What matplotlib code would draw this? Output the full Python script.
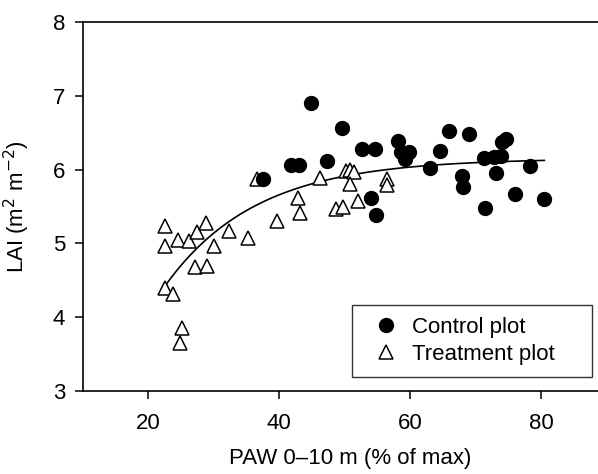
import numpy as np
import matplotlib
matplotlib.use("Agg")
from matplotlib import pyplot as plt

plt.rcParams['font.family'] = ['Liberation Sans', 'DejaVu Sans']

# control plot (filled circles)
control_paw = [37.6, 41.8, 43.1, 44.9, 47.3, 49.6, 52.7, 54.6, 54.0, 54.8,
               58.1, 58.6, 59.8, 59.2, 63.1, 64.6, 65.9, 69.0, 68.0, 68.1,
               71.5, 71.3, 72.8, 73.9, 74.1, 74.7, 73.1, 76.1, 78.3, 80.5]
control_lai = [5.87, 6.06, 6.07, 6.91, 6.12, 6.56, 6.28, 6.28, 5.61, 5.38,
               6.39, 6.24, 6.24, 6.14, 6.03, 6.25, 6.53, 6.48, 5.91, 5.77,
               5.48, 6.16, 6.17, 6.19, 6.38, 6.41, 5.95, 5.67, 6.05, 5.60]

# treatment plot (open triangles)
treat_paw = [22.5, 22.5, 24.5, 26.2, 27.4, 28.9, 30.1, 27.2, 29.0, 22.6,
             23.8, 25.2, 24.8, 32.4, 35.3, 39.6, 36.6, 42.9, 43.2, 46.3,
             50.2, 50.8, 51.5, 50.8, 48.7, 49.8, 52.1, 56.5, 56.5]
treat_lai = [5.24, 4.96, 5.05, 5.04, 5.15, 5.28, 4.97, 4.68, 4.70, 4.40,
             4.31, 3.85, 3.65, 5.17, 5.08, 5.31, 5.87, 5.62, 5.41, 5.89,
             5.98, 5.99, 5.97, 5.80, 5.47, 5.49, 5.57, 5.88, 5.79]

# fit y = c - a*exp(-b*x) to all points
x_all = np.array(control_paw + treat_paw)
y_all = np.array(control_lai + treat_lai)
best = None
for b in np.linspace(0.005, 0.2, 400):
    A = np.column_stack([np.ones_like(x_all), -np.exp(-b * x_all)])
    coef, res, _, _ = np.linalg.lstsq(A, y_all, rcond=None)
    sse = np.sum((A @ coef - y_all) ** 2)
    if best is None or sse < best[0]:
        best = (sse, b, coef)
_, b, (c, a) = best
xf = np.linspace(x_all.min(), x_all.max(), 200)
yf = c - a * np.exp(-b * xf)

fig = plt.figure(figsize=(5.98, 4.74), dpi=100)
ax = fig.add_axes([82.7 / 598, 1 - 391 / 474, (598 - 82.7) / 598, (391 - 22.2) / 474])

ax.plot(xf, yf, color='black', lw=1.2, zorder=1)
ax.plot(control_paw, control_lai, 'o', color='black', ms=10, ls='none',
        label='Control plot', zorder=3)
ax.plot(treat_paw, treat_lai, '^', mfc='white', mec='black', mew=1.1, ms=9.5,
        ls='none', label='Treatment plot', zorder=2)

ax.set_xlim(10, 88.7)
ax.set_ylim(3, 8)
ax.set_xticks([20, 40, 60, 80])
ax.set_yticks([3, 4, 5, 6, 7, 8])
ax.spines['right'].set_visible(False)
for s in ['left', 'bottom', 'top']:
    ax.spines[s].set_linewidth(1.2)
ax.tick_params(direction='out', length=5.5, width=1.1, labelsize=16)
ax.tick_params(axis='y', pad=7)
ax.tick_params(axis='x', pad=10)

ax.set_ylabel('LAI (m$^2$ m$^{-2}$)', fontsize=16)
ax.set_xlabel('PAW 0–10 m (% of max)', fontsize=16)
ax.yaxis.set_label_coords(-0.098, 0.5)
ax.xaxis.set_label_coords(0.519, -0.155)

leg = ax.legend(loc='lower left', bbox_to_anchor=(0.5226, 0.038, 0.466, 0.2),
                mode='expand', fontsize=16,
                frameon=True, fancybox=False, edgecolor='black',
                handletextpad=0.15, borderpad=0.55, labelspacing=0.25,
                handlelength=2.0, borderaxespad=0)
leg.get_frame().set_linewidth(1.0)

fig.savefig('out.png', dpi=100)
